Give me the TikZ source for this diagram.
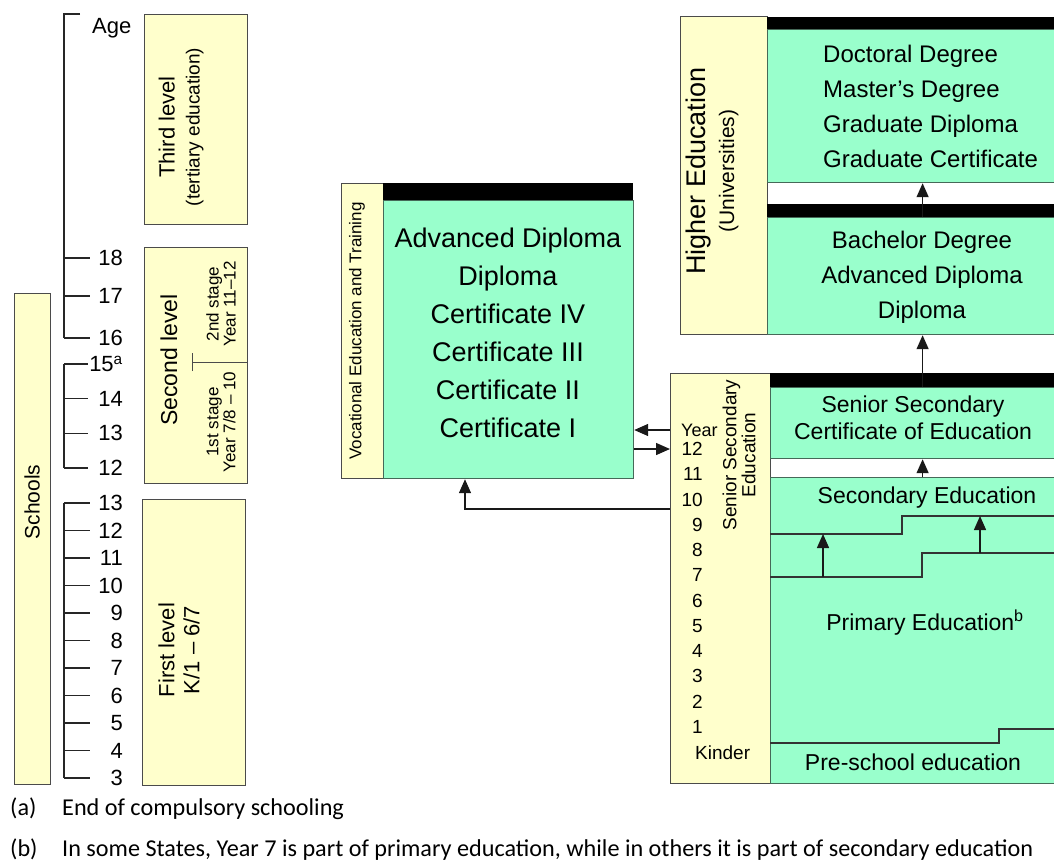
\documentclass[tikz,border=0pt]{standalone}
\usepackage{fontspec}
\setmainfont{Liberation Sans}
\newfontfamily\notefont{Carlito}
\usepackage{tikz}
\usetikzlibrary{arrows.meta}
\usetikzlibrary{positioning}
\definecolor{cream}{RGB}{255,255,204}
\definecolor{mint}{RGB}{153,255,204}
\definecolor{edgegray}{RGB}{75,75,75}
\definecolor{edgegreen}{RGB}{70,105,88}

\tikzset{
  yelbox/.style={draw=edgegray, fill=cream, line width=1.4pt, anchor=north west, inner sep=0pt},
  grnbox/.style={draw=edgegreen, fill=mint, line width=1.2pt, anchor=north west, inner sep=0pt},
  hdrbar/.style={fill=black, anchor=north west, inner sep=0pt},
  agelbl/.style={anchor=east, inner sep=0pt, font=\fontsize{22}{24}\selectfont},
  yrlbl/.style={anchor=east, inner sep=0pt, font=\fontsize{19}{21}\selectfont},
  agetick/.style={line width=1.4pt, draw=black!85},
  stepline/.style={line width=1.5pt, draw=black!80},
  arr/.style={-{Triangle[length=14pt,width=12pt]}, line width=1.4pt, draw=black!90},
  notetxt/.style={anchor=base west, inner sep=0pt, font=\notefont\fontsize{24.2}{28}\selectfont}
}

\begin{document}
\begin{tikzpicture}[x=1pt, y=-1pt]
\useasboundingbox (0,0) rectangle (1054,863);

% schools and age scale
\node[yelbox, minimum width=36pt, minimum height=491pt] (schools) at (14,293) {};
\node[rotate=90, font=\fontsize{21}{24}\selectfont] (schoolsTxt) at (32,502) {Schools};

\draw[agetick] (80,14) -- (64,14) -- (64,338);
\node[anchor=west, inner sep=0pt, font=\fontsize{22}{24}\selectfont] (ageHd) at (92,28) {Age};
\foreach \yy/\aa in {258/18, 296/17, 338/16}
  {\draw[agetick] (64,\yy) -- (90,\yy);
   \node[agelbl] (age\aa) at (123,\yy) {\aa};}

\draw[agetick] (64,364) -- (64,468);
\foreach \yy/\aa [count=\k] in {364/{15\textsuperscript{a}}, 398.7/14, 433.3/13, 468/12}
  {\draw[agetick] (64,\yy) -- (88,\yy);
   \node[agelbl] (sec\k) at (123,\yy) {\aa};}

\draw[agetick] (64,503) -- (64,778);
\foreach \aa [count=\k] in {13,12,...,3}
  {\pgfmathsetmacro\yy{503+27.5*(\k-1)}
   \draw[agetick] (64,\yy) -- (90,\yy);
   \node[agelbl] (prim\k) at (123,\yy) {\aa};}

% levels
\node[yelbox, minimum width=103pt, minimum height=210pt] (third) at (144,14) {};
\node[rotate=90, align=center, font=\fontsize{22}{25}\selectfont] (thirdTxt) at (181,127)
  {Third level\\{\fontsize{19}{25}\selectfont (tertiary education)}};

\node[yelbox, minimum width=103pt, minimum height=236pt] (second) at (144,247) {};
\node[rotate=90, font=\fontsize{23}{25}\selectfont] (secondTxt) at (169,360) {Second level};
\coordinate (stageCut) at (192,362);
\draw[line width=1pt, edgegray] (stageCut) -- (stageCut -| second.east);
\draw[line width=1pt, edgegray] ([yshift=-9pt]stageCut) -- ([yshift=9pt]stageCut);
\node[rotate=90, align=center, font=\fontsize{17}{17}\selectfont] (stageTwo) at (221,304)
  {2nd stage\\Year 11--12};
\node[rotate=90, align=center, font=\fontsize{17}{17}\selectfont] (stageOne) at (221,422)
  {1st stage\\Year 7/8 -- 10};

\node[yelbox, minimum width=103pt, minimum height=286pt] (first) at (142,499) {};
\node[rotate=90, align=center, font=\fontsize{22}{25}\selectfont] (firstTxt) at (179,650)
  {First level\\K/1 -- 6/7};

% vocational education and training
\node[yelbox, minimum width=42pt, minimum height=295pt] (vetstrip) at (341,183) {};
\node[rotate=90, font=\fontsize{17}{19}\selectfont] (vetstripTxt) at (357,331)
  {Vocational Education and Training};
\node[grnbox, minimum width=250pt, minimum height=278pt] (vet) at (383,200) {};
\node[hdrbar, minimum width=250pt, minimum height=17pt] (vethdr) at (383,183) {};
\node[align=center, font=\fontsize{27}{38}\selectfont] (vetList) at (508,333)
  {Advanced Diploma\\Diploma\\Certificate IV\\Certificate III\\Certificate II\\Certificate I};

% higher education
\node[yelbox, minimum width=87pt, minimum height=318pt] (hestrip) at (680,16) {};
\node[rotate=90, align=center, font=\fontsize{27}{29}\selectfont] (hestripTxt) at (712,171)
  {Higher Education\\{\fontsize{21}{29}\selectfont (Universities)}};
\node[grnbox, minimum width=310pt, minimum height=153pt] (doct) at (767,29) {};
\node[hdrbar, minimum width=310pt, minimum height=12pt] (doctHdr) at (767,17) {};
\node[anchor=west, align=left, inner sep=0pt, font=\fontsize{24}{35}\selectfont] (doctTxt) at (823,106)
  {Doctoral Degree\\Master's Degree\\Graduate Diploma\\Graduate Certificate};
\node[grnbox, minimum width=310pt, minimum height=117pt] (bach) at (767,217) {};
\node[hdrbar, minimum width=310pt, minimum height=13pt] (bachHdr) at (767,204) {};
\node[align=center, font=\fontsize{24}{35}\selectfont] (bachTxt) at (922,277)
  {Bachelor Degree\\Advanced Diploma\\Diploma};

% schools, year by year
\node[yelbox, minimum width=100pt, minimum height=410pt] (ssyr) at (670,373) {};
\node[rotate=90, align=center, font=\fontsize{19}{19}\selectfont] (ssyrTxt) at (739,455)
  {Senior Secondary\\Education};
\node[anchor=west, inner sep=0pt, font=\fontsize{18}{20}\selectfont] (yrHd) at (681,430) {Year};
\foreach \aa [count=\k] in {12,11,...,1}
  {\pgfmathsetmacro\yy{449+25.27*(\k-1)}
   \node[yrlbl] (yr\k) at (703,\yy) {\aa};}
\node[anchor=west, inner sep=0pt, font=\fontsize{19}{21}\selectfont] (yrKinder) at (695,753) {Kinder};

\node[grnbox, minimum width=304pt, minimum height=71pt] (ssce) at (770,387) {};
\node[hdrbar, minimum width=304pt, minimum height=14pt] (ssceHdr) at (770,373) {};
\node[align=center, font=\fontsize{23}{27}\selectfont] (ssceTxt) at (913,418)
  {Senior Secondary\\Certificate of Education};
\node[grnbox, minimum width=304pt, minimum height=306pt] (schgrn) at (770,477) {};

\draw[stepline] (770,534) -- (902,534) -- (902,516) -- (1076,516);
\draw[stepline] (770,577) -- (922,577) -- (922,553) -- (1076,553);
\draw[stepline] (770,743) -- (999,743) -- (999,729) -- (1076,729);
\node[font=\fontsize{23}{25}\selectfont] (secTxt) at (927,498) {Secondary Education};
\node[font=\fontsize{23}{25}\selectfont] (primTxt) at (925,623) {Primary Education\textsuperscript{b}};
\node[font=\fontsize{23}{25}\selectfont] (preTxt) at (913,762) {Pre-school education};

\coordinate (lowA) at (823,577);
\coordinate (upA) at (823,534);
\coordinate (lowB) at (980,553);
\coordinate (upB) at (980,516);
\draw[arr] (lowA) -- (upA);
\draw[arr] (lowB) -- (upB);

% pathways
\draw[arr] (bach.north) -- (doct.south);
\draw[arr] (ssce.north) -- (bach.south);
\draw[arr] (schgrn.north) -- (ssce.south);
\draw[arr] (yrHd -| ssyr.west) -- (yrHd -| vet.east);
\draw[arr] (yr1 -| vet.east) -- (yr1 -| ssyr.west);
\coordinate (vetIn) at (465,509);
\draw[arr] (vetIn -| ssyr.west) -- (vetIn) -- (vetIn |- vet.south);

% notes
\node[notetxt] (noteA) at (10,815) {(a)};
\node[notetxt] (noteAtxt) at (62,815) {End of compulsory schooling};
\node[notetxt] (noteB) at (10,856) {(b)};
\node[notetxt] (noteBtxt) at (62,856)
  {In some States, Year 7 is part of primary education, while in others it is part of secondary education};
\end{tikzpicture}
\end{document}
